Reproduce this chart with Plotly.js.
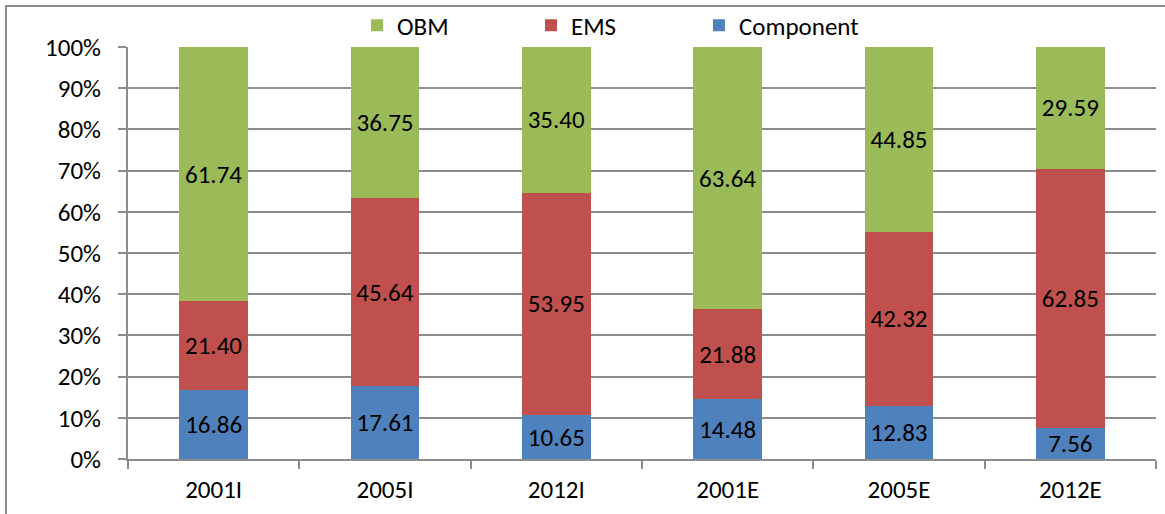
<!DOCTYPE html>
<html>
<head>
<meta charset="utf-8">
<script src="https://cdn.plot.ly/plotly-3.0.1.min.js"></script>
<style>
html,body{margin:0;padding:0;background:#fff;}
#wrap{position:relative;width:1165px;height:514px;}
#chart{width:1165px;height:514px;}
#frame{position:absolute;left:5px;top:5px;right:0;bottom:0;border-left:2px solid #8c8c8c;border-top:2px solid #8c8c8c;pointer-events:none;}
</style>
</head>
<body>
<div id="wrap"><div id="chart"></div><div id="frame"></div></div>
<script>
const categories = ['2001I', '2005I', '2012I', '2001E', '2005E', '2012E'];
const component = [16.86, 17.61, 10.65, 14.48, 12.83, 7.56];
const ems = [21.40, 45.64, 53.95, 21.88, 42.32, 62.85];
const obm = [61.74, 36.75, 35.40, 63.64, 44.85, 29.59];
const yTicks = [0, 10, 20, 30, 40, 50, 60, 70, 80, 90, 100];
const yTickLabels = ['0%', '10%', '20%', '30%', '40%', '50%', '60%', '70%', '80%', '90%', '100%'];

const FONT = 'Carlito, Calibri, Lato, sans-serif';
const FS = 25;
function tr(name, vals, color, leg) {
  return {
    type: 'bar', name: name, x: categories, y: vals, legend: leg,
    marker: {color: color, line: {width: 0}},
    texttemplate: '%{y:.2f}', textposition: 'inside', insidetextanchor: 'middle',
    textfont: {family: FONT, size: FS, color: '#000'},
    constraintext: 'none', hoverinfo: 'x+y+name'
  };
}
const data = [
  tr('Component', component, '#4F81BD', 'legend3'),
  tr('EMS', ems, '#C0504D', 'legend2'),
  tr('OBM', obm, '#9BBB59', 'legend')
];
function leg(x) {
  return {orientation: 'h', x: x, xanchor: 'left', y: 1.052, yanchor: 'middle',
    font: {family: FONT, size: FS, color: '#000'}, bgcolor: 'rgba(0,0,0,0)', borderwidth: 0};
}
const layout = {
  width: 1165, height: 514,
  margin: {l: 128, r: 9, t: 47, b: 55, autoexpand: false},
  barmode: 'stack', bargap: 0.6,
  paper_bgcolor: '#fff', plot_bgcolor: '#fff',
  font: {family: FONT, size: FS, color: '#000'},
  showlegend: true,
  legend: leg(0.2228),
  legend2: leg(0.3920),
  legend3: leg(0.5554),
  xaxis: {type: 'category', showline: true, linecolor: '#8c8c8c', linewidth: 2, ticks: 'outside', ticklen: 8,
    tickcolor: '#8c8c8c', tickwidth: 2, tickson: 'boundaries', showgrid: false, ticklabelstandoff: 7,
    tickfont: {family: FONT, size: FS, color: '#000'}},
  yaxis: {range: [0, 100], tickmode: 'array', tickvals: yTicks, ticktext: yTickLabels, showline: true,
    linecolor: '#8c8c8c', linewidth: 2,
    ticks: 'outside', ticklen: 8, tickcolor: '#8c8c8c', tickwidth: 2, showgrid: true, gridcolor: '#8c8c8c',
    gridwidth: 2, zeroline: false, ticklabelstandoff: 12, tickfont: {family: FONT, size: FS, color: '#000'}}
};
Plotly.newPlot('chart', data, layout, {displayModeBar: false, staticPlot: true});
</script>
</body>
</html>
